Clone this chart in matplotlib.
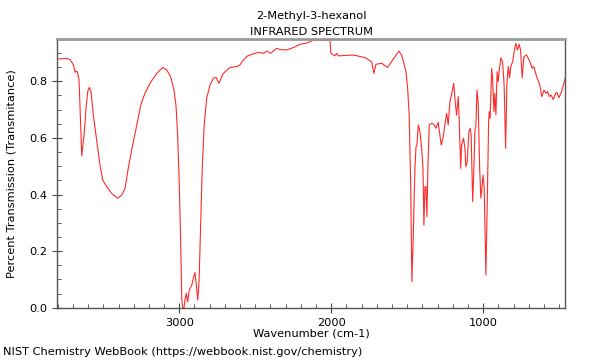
#!/usr/bin/env python3
"""
IR spectrum of 2-Methyl-3-hexanol, redrawn in the NIST WebBook style.
"""

import matplotlib
matplotlib.use('Agg')
import matplotlib.pyplot as plt
from matplotlib.ticker import MultipleLocator

# wavenumber (cm-1)
wavenumber = [
    3805, 3774, 3741, 3719, 3697, 3686, 3680, 3671, 3660, 3651,
    3642, 3627, 3614, 3603, 3592, 3581, 3566, 3543, 3522, 3504,
    3478, 3445, 3405, 3379, 3357, 3336, 3309, 3280, 3252, 3226,
    3193, 3149, 3109, 3083, 3057, 3035, 3022, 3011, 3000, 2991,
    2984, 2978, 2969, 2963, 2954, 2945, 2934, 2918, 2908, 2897,
    2890, 2879, 2870, 2859, 2849, 2836, 2820, 2798, 2776, 2758,
    2739, 2714, 2699, 2666, 2622, 2601, 2579, 2550, 2513, 2480,
    2447, 2421, 2399, 2359, 2337, 2293, 2250, 2206, 2162, 2118,
    2096, 2054, 2008, 2002, 1976, 1964, 1954, 1855, 1778, 1734,
    1719, 1706, 1668, 1629, 1596, 1566, 1555, 1537, 1522, 1508,
    1497, 1487, 1477, 1469, 1460, 1449, 1442, 1436, 1427, 1416,
    1405, 1396, 1390, 1383, 1377, 1370, 1364, 1355, 1339, 1322,
    1311, 1296, 1285, 1276, 1263, 1252, 1240, 1230, 1219, 1208,
    1194, 1184, 1175, 1164, 1158, 1148, 1142, 1129, 1120, 1114,
    1105, 1094, 1085, 1079, 1069, 1061, 1054, 1048, 1041, 1033,
    1023, 1015, 1000, 993, 982, 973, 964, 960, 954, 944,
    938, 929, 923, 916, 908, 901, 894, 883, 872, 862,
    852, 844, 835, 826, 818, 806, 796, 785, 774, 763,
    754, 743, 732, 714, 692, 677, 666, 648, 627, 614,
    600, 587, 576, 565, 554, 539, 523, 513, 502, 484,
    469, 460,
]

# transmittance (fraction)
transmittance = [
    0.879, 0.880, 0.881, 0.877, 0.858, 0.832, 0.836, 0.834, 0.805, 0.669,
    0.537, 0.610, 0.705, 0.763, 0.779, 0.763, 0.681, 0.587, 0.504, 0.451,
    0.428, 0.404, 0.387, 0.398, 0.422, 0.493, 0.569, 0.646, 0.720, 0.758,
    0.793, 0.828, 0.849, 0.840, 0.816, 0.769, 0.716, 0.610, 0.434, 0.233,
    0.033, 0.000, 0.000, 0.027, 0.051, 0.021, 0.063, 0.080, 0.104, 0.125,
    0.092, 0.027, 0.092, 0.304, 0.493, 0.646, 0.740, 0.787, 0.811, 0.814,
    0.793, 0.825, 0.834, 0.849, 0.852, 0.858, 0.875, 0.890, 0.897, 0.902,
    0.899, 0.907, 0.899, 0.917, 0.912, 0.911, 0.919, 0.931, 0.935, 0.945,
    0.945, 0.944, 0.945, 0.899, 0.890, 0.899, 0.890, 0.893, 0.884, 0.869,
    0.828, 0.860, 0.864, 0.849, 0.875, 0.899, 0.907, 0.893, 0.864, 0.834,
    0.775, 0.681, 0.434, 0.092, 0.257, 0.493, 0.569, 0.575, 0.646, 0.622,
    0.563, 0.493, 0.292, 0.428, 0.428, 0.322, 0.493, 0.646, 0.652, 0.646,
    0.634, 0.655, 0.610, 0.575, 0.604, 0.646, 0.687, 0.646, 0.728, 0.752,
    0.793, 0.728, 0.681, 0.746, 0.669, 0.493, 0.575, 0.599, 0.563, 0.498,
    0.516, 0.622, 0.634, 0.610, 0.375, 0.493, 0.628, 0.640, 0.769, 0.728,
    0.493, 0.387, 0.469, 0.422, 0.116, 0.375, 0.657, 0.693, 0.669, 0.846,
    0.810, 0.693, 0.758, 0.681, 0.834, 0.799, 0.840, 0.883, 0.869, 0.787,
    0.563, 0.787, 0.852, 0.813, 0.852, 0.869, 0.905, 0.934, 0.911, 0.931,
    0.911, 0.813, 0.887, 0.893, 0.869, 0.846, 0.852, 0.816, 0.787, 0.746,
    0.769, 0.758, 0.764, 0.746, 0.752, 0.736, 0.758, 0.760, 0.742, 0.763,
    0.793, 0.811,
]

compound = '2-Methyl-3-hexanol'
source = 'NIST Chemistry WebBook (https://webbook.nist.gov/chemistry)'

fig = plt.figure(figsize=(6, 3.6), dpi=100)
ax = fig.add_axes([0.095, 0.145, 0.847, 0.747])

ax.plot(wavenumber, transmittance, color='#ff2a2a', linewidth=0.8)

ax.set_xlim(3805, 460)
ax.set_ylim(0, 0.95)

ax.xaxis.set_major_locator(MultipleLocator(1000))
ax.xaxis.set_minor_locator(MultipleLocator(100))
ax.yaxis.set_major_locator(MultipleLocator(0.2))
ax.yaxis.set_minor_locator(MultipleLocator(0.05))
ax.yaxis.set_major_formatter(plt.FuncFormatter(lambda v, p: f'{v:.1f}'))

ax.tick_params(which='both', labelsize=8.2, color='#444444')
ax.tick_params(which='major', direction='inout', length=7)
ax.tick_params(which='minor', direction='in', length=3)
ax.tick_params(axis='x', which='both', top=False)

for side in ['left', 'right', 'bottom']:
    ax.spines[side].set_color('#555555')
    ax.spines[side].set_linewidth(1.0)
ax.spines['top'].set_color('#999999')
ax.spines['top'].set_linewidth(2.0)

ax.set_title(f'{compound}\nINFRARED SPECTRUM', fontsize=8.2, pad=3, linespacing=1.7)
ax.set_xlabel('Wavenumber (cm-1)', fontsize=8.2, labelpad=1)
ax.set_ylabel('Percent Transmission (Transmitance)', fontsize=8.2, labelpad=9)

fig.text(0.005, 0.022, source, fontsize=8.2, ha='left', va='center')

fig.savefig('out.png', dpi=100)
